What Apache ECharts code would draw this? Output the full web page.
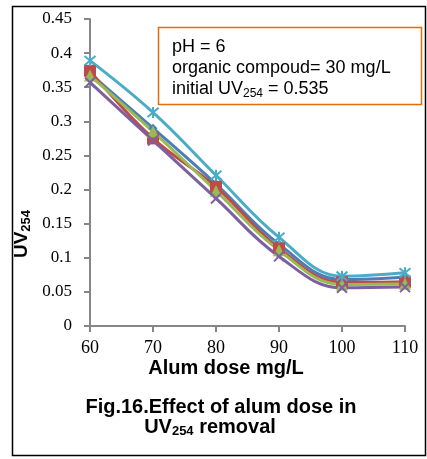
<!DOCTYPE html>
<html><head><meta charset="utf-8">
<script src="https://cdn.jsdelivr.net/npm/echarts@6/dist/echarts.min.js"></script>
<style>html,body{margin:0;padding:0;background:#fff}#c{width:427px;height:459px}</style>
</head><body><div id="c"></div>
<script>
const doses = [60, 70, 80, 90, 100, 110];
const seriesBlue   = [0.370, 0.290, 0.208, 0.120, 0.068, 0.072];
const seriesRed    = [0.374, 0.275, 0.204, 0.114, 0.064, 0.065];
const seriesGreen  = [0.367, 0.285, 0.198, 0.111, 0.061, 0.062];
const seriesPurple = [0.357, 0.272, 0.187, 0.102, 0.056, 0.057];
const seriesCyan   = [0.389, 0.313, 0.221, 0.130, 0.073, 0.078];
const yTicks = [0, 0.05, 0.1, 0.15, 0.2, 0.25, 0.3, 0.35, 0.4, 0.45];

const chart = echarts.init(document.getElementById('c'), null, {renderer: 'canvas'});
const pair = arr => arr.map((v, i) => [doses[i], v]);
const xPath = 'path://M0,0L10,10M10,0L0,10';
const starPath = 'path://M0,0L10,10M10,0L0,10M5,-1L5,11';
function mk(name, data, color, symbol, size, stroke) {
  return {
    name, type: 'line', data: pair(data), smooth: 0.4,
    symbol, symbolSize: size,
    lineStyle: {color, width: 3},
    itemStyle: stroke ? {color: color, borderColor: color, borderWidth: 2} : {color},
    emphasis: {disabled: true}
  };
}
chart.setOption({
  animation: false,
  grid: {left: 90, right: 22, top: 19, bottom: 133},
  xAxis: {
    type: 'value', min: 60, max: 110, interval: 10,
    axisLine: {show: true, lineStyle: {color: '#868686', width: 2}},
    axisTick: {show: true, length: 6, lineStyle: {color: '#868686', width: 2}},
    splitLine: {show: false},
    axisLabel: {margin: 13, color: '#000', fontFamily: 'Liberation Serif', fontSize: 18}
  },
  yAxis: {
    type: 'value', min: 0, max: 0.45, interval: 0.05,
    axisLine: {show: true, lineStyle: {color: '#868686', width: 2}},
    axisTick: {show: true, length: 6, lineStyle: {color: '#868686', width: 2}},
    splitLine: {show: false},
    axisLabel: {margin: 18, color: '#000', fontFamily: 'Liberation Serif', fontSize: 17,
      formatter: v => { const t = yTicks.find(k => Math.abs(k - v) < 1e-9); return t === undefined ? '' : String(+t.toFixed(2)); }}
  },
  series: [
    mk('s1', seriesBlue, '#4A7EBB', 'diamond', 9, false),
    mk('s2', seriesRed, '#BE4B48', 'rect', 12, false),
    mk('s3', seriesGreen, '#98B954', 'triangle', 12, false),
    mk('s4', seriesPurple, '#7D60A0', xPath, 10, true),
    mk('s5', seriesCyan, '#4BACC6', starPath, 11, true)
  ],
  graphic: [
    {type: 'rect', shape: {x: 12.5, y: 6.5, width: 413, height: 449}, style: {fill: 'none', stroke: '#000', lineWidth: 1.5}, z: 0},
    {type: 'rect', shape: {x: 158.5, y: 27.5, width: 263, height: 77}, style: {fill: '#fff', stroke: '#E46C0A', lineWidth: 1.5}, z: 10},
    {type: 'text', left: 172, top: 38, z: 11, style: {
      text: '{n|pH = 6}\n{n|organic compoud= 30 mg/L}\n{n|initial UV}{s|254}{n| = 0.535}',
      fill: '#000',
      rich: {n: {fontSize: 18, fontFamily: 'Liberation Sans', lineHeight: 21}, s: {fontSize: 12, fontFamily: 'Liberation Sans', padding: [9, 0, 0, 0], lineHeight: 21}}
    }},
    {type: 'text', x: 22, y: 234, rotation: Math.PI / 2, z: 11, style: {
      text: '{n|UV}{s|254}', align: 'center', verticalAlign: 'middle',
      rich: {n: {fontSize: 19, fontWeight: 'bold', fontFamily: 'Liberation Sans', lineHeight: 22}, s: {fontSize: 13, fontWeight: 'bold', fontFamily: 'Liberation Sans', padding: [9, 0, 0, 0], lineHeight: 22}}
    }},
    {type: 'text', x: 226, y: 368, z: 11, style: {text: 'Alum dose mg/L', align: 'center', verticalAlign: 'middle', font: 'bold 20px Liberation Sans', fill: '#000'}},
    {type: 'text', x: 221, y: 407, z: 11, style: {text: 'Fig.16.Effect of alum dose in', align: 'center', verticalAlign: 'middle', font: 'bold 20px Liberation Sans', fill: '#000'}},
    {type: 'text', x: 210, y: 427, z: 11, style: {
      text: '{n|UV}{s|254}{n| removal}', align: 'center', verticalAlign: 'middle',
      rich: {n: {fontSize: 20, fontWeight: 'bold', fontFamily: 'Liberation Sans', lineHeight: 22}, s: {fontSize: 13, fontWeight: 'bold', fontFamily: 'Liberation Sans', padding: [9, 0, 0, 0], lineHeight: 22}}
    }}
  ]
});
</script></body></html>
